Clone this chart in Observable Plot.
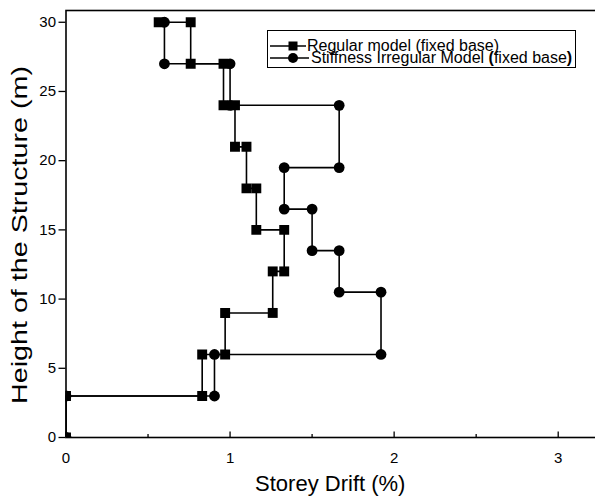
<!DOCTYPE html>
<html><head><meta charset="utf-8">
<script src="https://cdn.jsdelivr.net/npm/d3@7"></script>
<script src="https://cdn.jsdelivr.net/npm/@observablehq/plot@0.6"></script>
<style>
html,body{margin:0;padding:0;background:#fff;overflow:hidden;width:595px;height:499px}
#wrap{position:relative;width:595px;height:499px;overflow:hidden;font-family:'Liberation Sans',Arial,sans-serif}
#wrap svg{max-width:none!important;display:block}
#legend{position:absolute;left:267px;top:30px;width:309px;height:38px;box-sizing:border-box;border:1px solid #000;background:#fff}
#legend .row{position:absolute;left:2px;height:16px;white-space:nowrap}
#legend .row svg{position:absolute;left:0;top:0}
#legend .row span{position:absolute;top:2px;font-size:16px;line-height:12px;height:12px;color:#000}
</style></head><body><div id="wrap"></div>
<script>
// Data
const seriesNames = ["Regular model (fixed base)", "Stiffness Irregular Model (fixed base)"];
const regularDrift  = [0, 0, 0.83, 0.83, 0.97, 0.97, 1.26, 1.26, 1.33, 1.33, 1.16, 1.16, 1.10, 1.10, 1.03, 1.03, 0.96, 0.96, 0.76, 0.76, 0.565];
const regularHeight = [0, 3, 3, 6, 6, 9, 9, 12, 12, 15, 15, 18, 18, 21, 21, 24, 24, 27, 27, 30, 30];
const irregularDrift  = [0, 0, 0.905, 0.905, 1.92, 1.92, 1.665, 1.665, 1.50, 1.50, 1.33, 1.33, 1.665, 1.665, 1.00, 1.00, 0.60, 0.60];
const irregularHeight = [0, 3, 3, 6, 6, 10.5, 10.5, 13.5, 13.5, 16.5, 16.5, 19.5, 19.5, 24, 24, 27, 27, 30];
const xTicks = [0, 1, 2, 3];
const xMinorTicks = [0.5, 1.5, 2.5];
const yTicks = [0, 5, 10, 15, 20, 25, 30];
const xTitle = "Storey Drift (%)";
const yTitle = "Height of the Structure (m)";

const regular = regularDrift.map((d, i) => ({drift: d, height: regularHeight[i]}));
const irregular = irregularDrift.map((d, i) => ({drift: d, height: irregularHeight[i]}));

const plot = Plot.plot({
  width: 610, height: 499,
  marginLeft: 65.5, marginRight: 8, marginTop: 10, marginBottom: 62,
  style: {fontFamily: "'Liberation Sans', Arial, sans-serif", color: "#000", background: "#fff"},
  x: {domain: [0, 3.27]},
  y: {domain: [0, 30.85]},
  marks: [
    Plot.axisX(xMinorTicks, {tickSize: -3, tickFormat: () => "", label: null, strokeWidth: 1.3}),
    Plot.axisX(xTicks, {tickSize: -5.5, tickPadding: 20, fontSize: 15, label: null, strokeWidth: 1.3, tickFormat: d3.format("d")}),
    Plot.axisY(yTicks, {tickSize: 7, tickPadding: 3, fontSize: 15, label: null, strokeWidth: 1.3, tickFormat: d3.format("d")}),
    Plot.line(regular, {x: "drift", y: "height", stroke: "#000", strokeWidth: 1.6, clip: true}),
    Plot.line(irregular, {x: "drift", y: "height", stroke: "#000", strokeWidth: 1.6, clip: true}),
    Plot.dot(regular, {x: "drift", y: "height", symbol: "square", r: 5.6, fill: "#000", stroke: "none", clip: true}),
    Plot.dot(irregular, {x: "drift", y: "height", symbol: "circle", r: 5.4, fill: "#000", stroke: "none", clip: true}),
    Plot.frame({stroke: "#000", strokeWidth: 1.6}),
    Plot.text([xTitle], {frameAnchor: "bottom", textAnchor: "middle", lineAnchor: "middle", dx: -4, dy: 46, fontSize: 22, fill: "#000"}),
    Plot.text([yTitle], {frameAnchor: "left", textAnchor: "middle", lineAnchor: "middle", rotate: -90, dx: -46, dy: 11, fontSize: 22, fill: "#000"})
  ]
});
const wrap = document.getElementById("wrap");
wrap.appendChild(plot);
// stretch the y title along its length as in the reference
plot.querySelectorAll("text").forEach(t => {
  if (t.textContent === yTitle) {
    t.setAttribute("textLength", "338");
    t.setAttribute("lengthAdjust", "spacingAndGlyphs");
  }
});

// Legend
const legend = document.createElement("div");
legend.id = "legend";
function row(top, symbol, html, textLeft) {
  const r = document.createElement("div");
  r.className = "row";
  r.style.top = top + "px";
  const marker = symbol === "square"
    ? `<rect x="18.5" y="3.5" width="9" height="9" fill="#000"/>`
    : `<circle cx="23" cy="8" r="5" fill="#000"/>`;
  r.innerHTML = `<svg width="40" height="16"><line x1="0" y1="8" x2="${symbol === "square" ? 36 : 39}" y2="8" stroke="#000" stroke-width="1.5"/>${marker}</svg><span style="left:${textLeft}px">${html}</span>`;
  legend.appendChild(r);
}
row(6.5, "square", seriesNames[0], 37);
row(19, "circle", seriesNames[1].replace("(fixed base)", "<b>(</b>fixed base<b>)</b>"), 41);
wrap.appendChild(legend);
</script></body></html>
